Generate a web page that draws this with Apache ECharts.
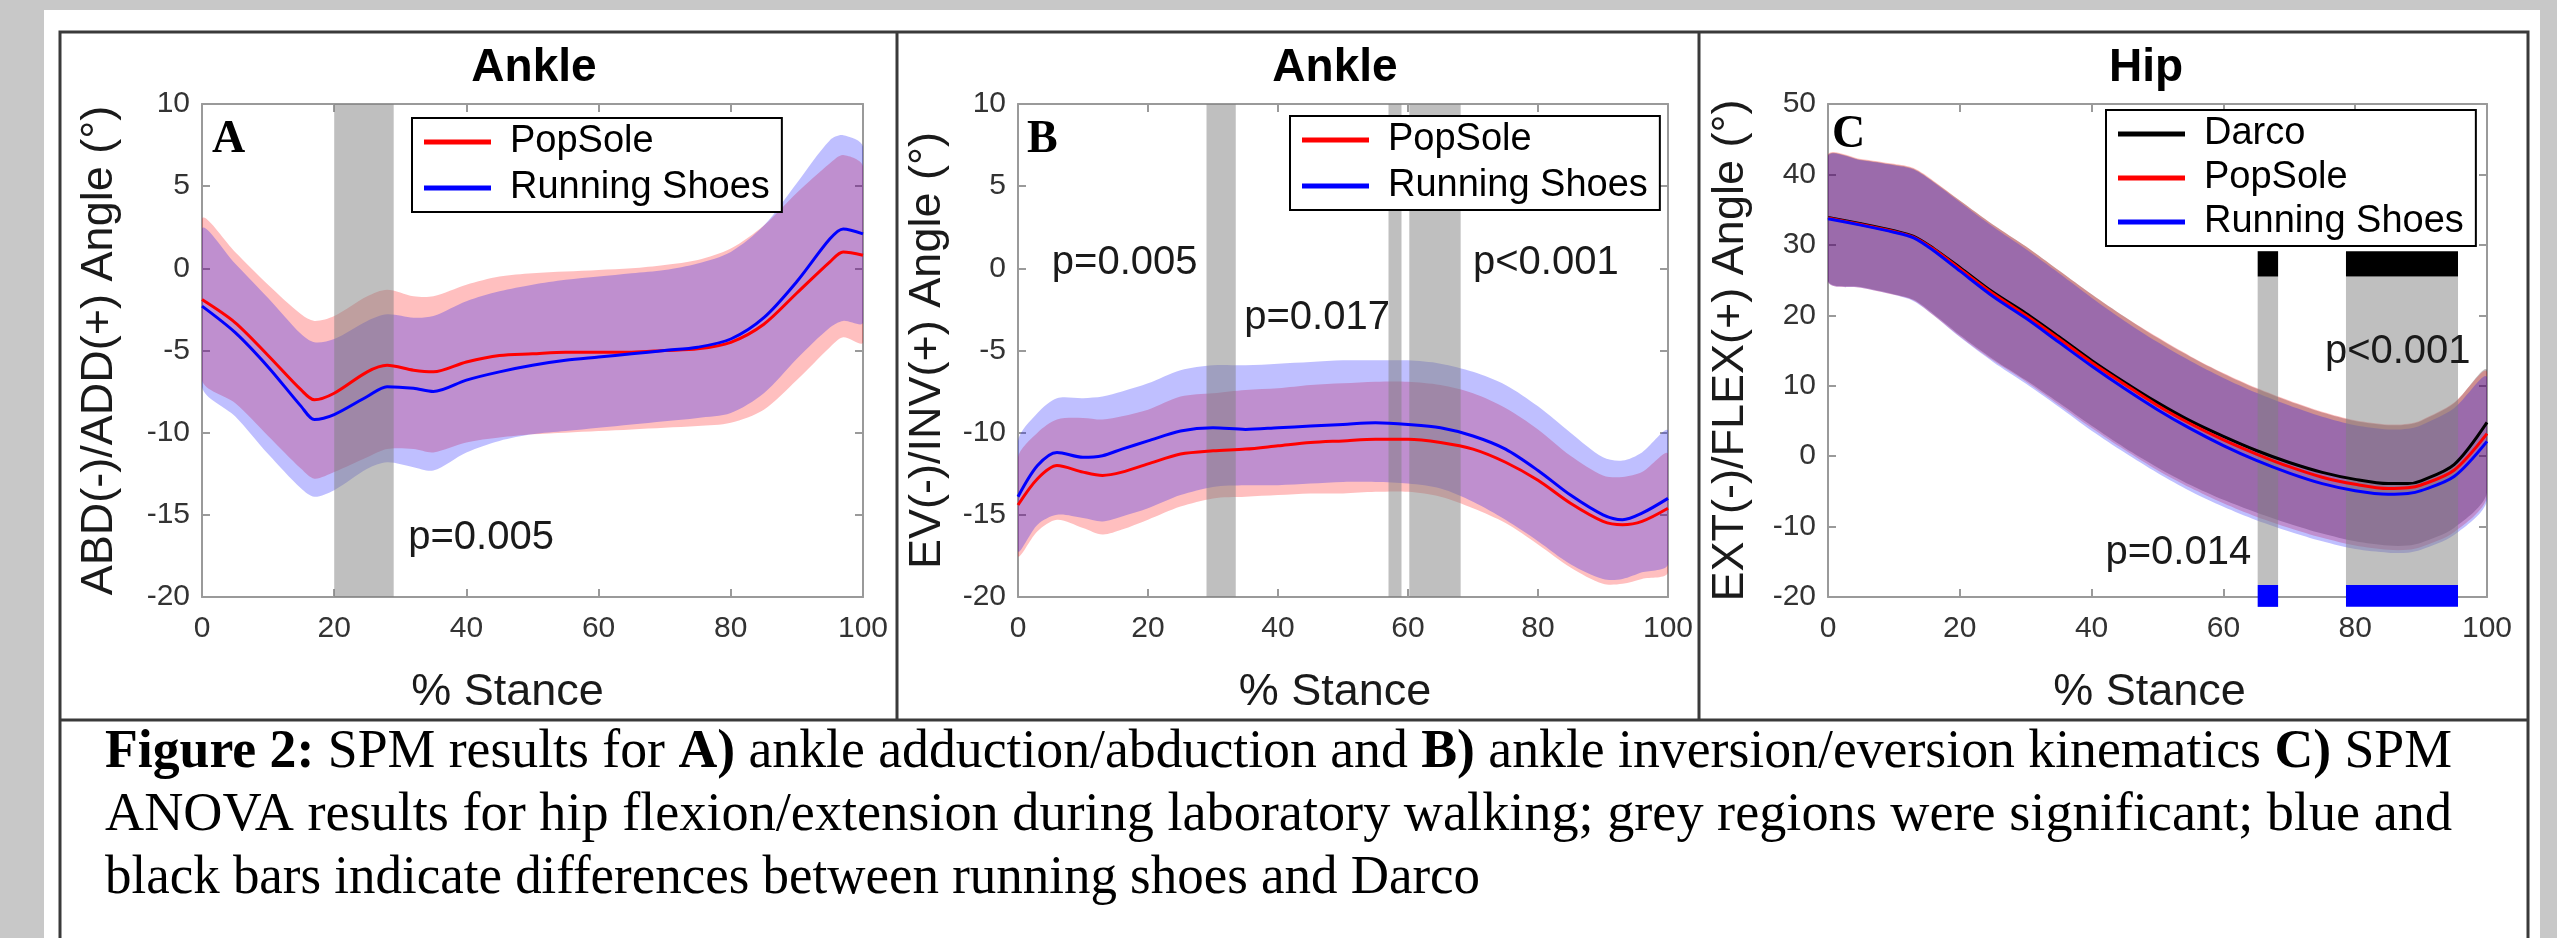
<!DOCTYPE html>
<html>
<head>
<meta charset="utf-8">
<script src="https://cdn.jsdelivr.net/npm/echarts@6/dist/echarts.min.js"></script>
<style>
  html, body { margin: 0; padding: 0; background: #c8c8c8; }
  #chart { width: 2557px; height: 938px; }
</style>
</head>
<body>
<div id="chart"></div>
<script>
// ---- panel A: ankle adduction / abduction ----
const aX = [0, 5, 10, 15, 17, 20, 25, 28, 32, 35, 40, 45, 50, 55, 60, 65, 70, 75, 80, 85, 90, 95, 97, 100]
const aPop = [-1.9, -3.3, -5.3, -7.4, -8.0, -7.6, -6.3, -5.9, -6.2, -6.3, -5.7, -5.3, -5.2, -5.1, -5.1, -5.1, -5.0, -4.9, -4.5, -3.4, -1.5, 0.4, 1.0, 0.8]
const aRun = [-2.3, -3.9, -6.0, -8.4, -9.2, -8.9, -7.8, -7.2, -7.3, -7.5, -6.8, -6.3, -5.9, -5.6, -5.4, -5.2, -5.0, -4.8, -4.3, -3.0, -0.8, 1.8, 2.4, 2.1]
const aPopHi = [3.0, 1.0, -1.0, -2.8, -3.2, -2.9, -1.7, -1.3, -1.7, -1.7, -1.0, -0.5, -0.3, -0.2, -0.1, 0.0, 0.2, 0.5, 1.2, 2.6, 4.6, 6.4, 6.9, 6.2]
const aPopLo = [-6.8, -8.2, -10.2, -12.2, -12.8, -12.4, -11.5, -11.0, -11.0, -11.2, -10.6, -10.3, -10.1, -10.0, -9.9, -9.8, -9.7, -9.6, -9.4, -8.6, -6.8, -4.8, -4.2, -4.5]
const aRunHi = [2.4, 0.3, -1.8, -4.0, -4.5, -4.3, -3.2, -2.8, -3.0, -2.9, -2.0, -1.4, -1.0, -0.7, -0.5, -0.3, -0.1, 0.3, 1.0, 2.6, 5.2, 7.8, 8.1, 7.4]
const aRunLo = [-7.2, -9.0, -11.3, -13.4, -13.9, -13.5, -12.2, -11.8, -12.1, -12.3, -11.2, -10.5, -10.1, -9.9, -9.7, -9.5, -9.3, -9.1, -8.8, -7.6, -5.5, -3.6, -3.2, -3.3]
const aSig = [[20, 29]]

// ---- panel B: ankle inversion / eversion ----
const bX = [0, 3, 6, 10, 13, 16, 20, 25, 30, 35, 40, 45, 50, 55, 60, 65, 70, 75, 80, 85, 90, 93, 96, 100]
const bPop = [-14.4, -12.8, -12.0, -12.4, -12.6, -12.4, -11.9, -11.3, -11.1, -11.0, -10.8, -10.6, -10.5, -10.4, -10.4, -10.6, -11.0, -11.8, -12.9, -14.3, -15.4, -15.6, -15.4, -14.6]
const bRun = [-13.9, -12.0, -11.2, -11.5, -11.4, -11.0, -10.5, -9.9, -9.7, -9.8, -9.7, -9.6, -9.5, -9.4, -9.5, -9.7, -10.2, -11.0, -12.3, -13.8, -15.0, -15.3, -14.9, -14.0]
const bPopHi = [-11.5, -10.0, -9.2, -9.1, -9.2, -9.0, -8.6, -7.8, -7.6, -7.4, -7.3, -7.1, -7.0, -6.9, -6.9, -7.1, -7.6, -8.5, -9.8, -11.4, -12.6, -12.7, -12.4, -11.3]
const bPopLo = [-17.5, -16.0, -15.3, -15.8, -16.2, -15.9, -15.3, -14.5, -14.0, -13.9, -13.8, -13.7, -13.7, -13.6, -13.6, -13.9, -14.6, -15.5, -16.8, -18.2, -19.2, -19.2, -18.9, -18.5]
const bRunHi = [-10.5, -8.8, -7.9, -7.9, -7.8, -7.5, -7.0, -6.2, -5.9, -5.9, -5.8, -5.7, -5.6, -5.6, -5.6, -5.8, -6.3, -7.1, -8.4, -10.0, -11.5, -11.7, -11.2, -9.9]
const bRunLo = [-17.2, -15.6, -15.0, -15.2, -15.4, -15.1, -14.6, -13.8, -13.3, -13.2, -13.2, -13.1, -13.0, -13.0, -13.1, -13.4, -14.2, -15.3, -16.6, -18.0, -18.9, -18.9, -18.5, -18.0]
const bSig = [[29, 33.5], [57, 59], [60.2, 68.1]]

// ---- panel C: hip flexion / extension ----
const cX = [0, 5, 10, 13, 16, 20, 25, 30, 35, 40, 45, 50, 55, 60, 65, 70, 75, 80, 85, 88, 90, 95, 100]
const cDarco = [33.9, 33.0, 32.0, 31.2, 29.5, 26.8, 23.3, 20.3, 17.0, 13.6, 10.5, 7.6, 5.0, 2.8, 0.8, -0.9, -2.3, -3.3, -3.9, -3.9, -3.5, -1.2, 4.8]
const cPop = [33.8, 32.9, 31.9, 31.1, 29.4, 26.6, 23.1, 20.0, 16.7, 13.3, 10.2, 7.2, 4.6, 2.3, 0.3, -1.5, -3.0, -4.0, -4.6, -4.5, -4.1, -2.0, 3.2]
const cRun = [33.7, 32.8, 31.8, 31.0, 29.2, 26.3, 22.7, 19.6, 16.2, 12.8, 9.6, 6.6, 3.9, 1.5, -0.6, -2.4, -3.9, -4.9, -5.4, -5.3, -4.9, -2.9, 2.1]
const cDarcoHi = [42.7, 42.1, 41.4, 40.8, 39.0, 36.3, 32.9, 29.8, 26.4, 23.0, 19.8, 16.8, 14.1, 11.7, 9.6, 7.8, 6.2, 5.0, 4.4, 4.5, 5.0, 7.5, 12.2]
const cDarcoLo = [24.9, 24.0, 23.0, 22.2, 20.2, 17.2, 13.8, 10.8, 7.6, 4.3, 1.2, -1.6, -4.1, -6.2, -8.0, -9.6, -11.0, -12.1, -12.7, -12.7, -12.3, -10.2, -5.2]
const cPopHi = [42.8, 42.2, 41.5, 40.9, 39.1, 36.3, 32.9, 29.8, 26.4, 23.0, 19.8, 16.9, 14.2, 11.8, 9.7, 7.9, 6.3, 5.1, 4.5, 4.6, 5.1, 7.6, 12.0]
const cPopLo = [24.8, 23.9, 22.9, 22.1, 20.0, 17.0, 13.6, 10.6, 7.3, 4.0, 0.9, -2.0, -4.5, -6.7, -8.6, -10.2, -11.6, -12.7, -13.3, -13.3, -12.9, -10.8, -5.8]
const cRunHi = [42.6, 42.0, 41.3, 40.7, 38.9, 36.1, 32.6, 29.4, 26.0, 22.5, 19.2, 16.2, 13.5, 11.1, 9.0, 7.2, 5.6, 4.4, 3.8, 3.9, 4.4, 6.8, 11.2]
const cRunLo = [24.8, 23.9, 22.9, 22.0, 20.0, 16.9, 13.4, 10.3, 7.0, 3.6, 0.5, -2.4, -5.0, -7.2, -9.1, -10.7, -12.1, -13.2, -13.7, -13.7, -13.3, -11.2, -6.3]
const cSig = [[65.2, 68.3], [78.6, 95.6]]

const SANS = 'Liberation Sans'
const SERIF = 'Liberation Serif'
const RED = '#ff0000'
const BLUE = '#0000ff'
const BLACK = '#000000'

const grids = [
  { left: 202, top: 104, width: 661, height: 493 },
  { left: 1018, top: 104, width: 650, height: 493 },
  { left: 1828, top: 104, width: 659, height: 493 }
]

function band(gi, name, xs, hi, lo, fill) {
  return {
    type: 'custom', name: name, xAxisIndex: gi * 2, yAxisIndex: gi * 2,
    data: [[xs[0], hi[0]]], silent: true,
    renderItem(params, api) {
      const up = xs.map((x, i) => api.coord([x, hi[i]]))
      const dn = xs.map((x, i) => api.coord([x, lo[i]])).reverse()
      const cs = params.coordSys
      return {
        type: 'polygon',
        shape: { points: up.concat(dn), smooth: 0.3 },
        style: { fill: fill },
        clipPath: { type: 'rect', shape: { x: cs.x, y: cs.y, width: cs.width, height: cs.height } }
      }
    }
  }
}

function meanLine(gi, name, xs, ys, color) {
  return {
    type: 'line', name: name, xAxisIndex: gi * 2, yAxisIndex: gi * 2,
    data: xs.map((x, i) => [x, ys[i]]),
    symbol: 'none', showSymbol: false, smooth: 0.3, silent: true,
    lineStyle: { color: color, width: 3 },
    itemStyle: { color: color }
  }
}

// shaded significance regions, each [x0, x1] between y0 and y1
function sigRects(gi, name, spans, y0, y1, fill) {
  return {
    type: 'custom', name: name, xAxisIndex: gi * 2, yAxisIndex: gi * 2,
    data: spans.map(s => [s[0], s[1]]), silent: true,
    renderItem(params, api) {
      const p0 = api.coord([api.value(0), y1])
      const p1 = api.coord([api.value(1), y0])
      return {
        type: 'rect',
        shape: { x: p0[0], y: p0[1], width: p1[0] - p0[0], height: p1[1] - p0[1] },
        style: { fill: fill }
      }
    }
  }
}

function notes(gi, pts, texts, font) {
  return {
    type: 'custom', name: 'notes' + gi, xAxisIndex: gi * 2, yAxisIndex: gi * 2,
    data: pts, silent: true, z: 5,
    renderItem(params, api) {
      const p = api.coord([api.value(0), api.value(1)])
      return {
        type: 'text', x: p[0], y: p[1],
        style: Object.assign({ text: texts[params.dataIndex], align: 'left', verticalAlign: 'middle', fill: '#1a1a1a' }, font[params.dataIndex])
      }
    }
  }
}

const pFont = { fontFamily: SANS, fontSize: 40 }
const letterFont = { fontFamily: SERIF, fontSize: 46, fontWeight: 'bold', fill: '#000' }

const axisLine = { show: true, onZero: false, lineStyle: { color: '#9a9a9a', width: 2 } }
const axisTick = { show: true, inside: true, length: 8, lineStyle: { color: '#9a9a9a', width: 2 } }
const tickLabel = { fontFamily: SANS, fontSize: 30, color: '#333' }

const yRanges = [[-20, 10, 5], [-20, 10, 5], [-20, 50, 10]]
const yNames = ['ABD(-)/ADD(+) Angle (°)', 'EV(-)/INV(+) Angle (°)', 'EXT(-)/FLEX(+) Angle (°)']
const yNameGaps = [79, 67, 74]
const xNamePad = [[0, 50, 0, 0], [0, 16, 0, 0], [0, 16, 0, 0]]

const xAxes = []
const yAxes = []
for (let i = 0; i < 3; i++) {
  xAxes.push({
    type: 'value', gridIndex: i, min: 0, max: 100, interval: 20, position: 'bottom',
    axisLine: axisLine, axisTick: axisTick, splitLine: { show: false },
    axisLabel: Object.assign({ margin: 17 }, tickLabel),
    name: '% Stance', nameLocation: 'middle', nameGap: 73, nameMoveOverlap: false,
    nameTextStyle: { fontFamily: SANS, fontSize: 45, color: '#1a1a1a', lineHeight: 46, padding: xNamePad[i] }
  })
  xAxes.push({
    type: 'value', gridIndex: i, min: 0, max: 100, interval: 20, position: 'top',
    axisLine: axisLine, axisTick: axisTick, splitLine: { show: false }, axisLabel: { show: false }
  })
  const r = yRanges[i]
  yAxes.push({
    type: 'value', gridIndex: i, min: r[0], max: r[1], interval: r[2], position: 'left',
    axisLine: axisLine, axisTick: axisTick, splitLine: { show: false },
    axisLabel: Object.assign({ margin: 12 }, tickLabel),
    name: yNames[i], nameLocation: 'middle', nameGap: yNameGaps[i], nameMoveOverlap: false,
    nameTextStyle: { fontFamily: SANS, fontSize: 45, color: '#1a1a1a', lineHeight: 46 }
  })
  yAxes.push({
    type: 'value', gridIndex: i, min: r[0], max: r[1], interval: r[2], position: 'right',
    axisLine: axisLine, axisTick: axisTick, splitLine: { show: false }, axisLabel: { show: false }
  })
}

function legendBox(left, top, names, gap) {
  return {
    data: names, orient: 'vertical', left: left, top: top,
    icon: 'rect', itemWidth: 67, itemHeight: 5, itemGap: gap,
    padding: [4, 12, 4, 12], borderColor: '#000', borderWidth: 2, backgroundColor: '#fff',
    selectedMode: false, z: 10,
    textStyle: { fontFamily: SANS, fontSize: 38, color: '#000', lineHeight: 40, padding: [0, 0, 0, 14] }
  }
}

const series = [
  band(0, 'aPopBand', aX, aPopHi, aPopLo, 'rgba(255,0,0,0.25)'),
  meanLine(0, 'PopSole', aX, aPop, RED),
  band(0, 'aRunBand', aX, aRunHi, aRunLo, 'rgba(0,0,255,0.25)'),
  meanLine(0, 'Running Shoes', aX, aRun, BLUE),
  sigRects(0, 'aSig', aSig, -20, 10, 'rgba(128,128,128,0.5)'),
  notes(0, [[1.5, 7.8], [31.2, -16.4]], ['A', 'p=0.005'], [letterFont, pFont]),

  band(1, 'bPopBand', bX, bPopHi, bPopLo, 'rgba(255,0,0,0.25)'),
  meanLine(1, 'PopSole', bX, bPop, RED),
  band(1, 'bRunBand', bX, bRunHi, bRunLo, 'rgba(0,0,255,0.25)'),
  meanLine(1, 'Running Shoes', bX, bRun, BLUE),
  sigRects(1, 'bSig', bSig, -20, 10, 'rgba(128,128,128,0.5)'),
  notes(1, [[1.4, 7.8], [5.2, 0.3], [34.8, -3.0], [70.0, 0.3]], ['B', 'p=0.005', 'p=0.017', 'p<0.001'], [letterFont, pFont, pFont, pFont]),

  band(2, 'cDarcoBand', cX, cDarcoHi, cDarcoLo, 'rgba(0,0,0,0.25)'),
  meanLine(2, 'Darco', cX, cDarco, BLACK),
  band(2, 'cPopBand', cX, cPopHi, cPopLo, 'rgba(255,0,0,0.25)'),
  meanLine(2, 'PopSole', cX, cPop, RED),
  band(2, 'cRunBand', cX, cRunHi, cRunLo, 'rgba(0,0,255,0.25)'),
  meanLine(2, 'Running Shoes', cX, cRun, BLUE),
  sigRects(2, 'cSig', cSig, -18.3, 25.5, 'rgba(128,128,128,0.5)'),
  sigRects(2, 'cSigDarco', cSig, 25.5, 29.1, BLACK),
  sigRects(2, 'cSigRun', cSig, -21.4, -18.3, BLUE),
  notes(2, [[0.6, 45.6], [75.4, 14.8], [42.1, -13.8]], ['C', 'p<0.001', 'p=0.014'], [letterFont, pFont, pFont])
]

// caption lines, fitted to the justified width of the original
const capSize = 54
const ctx = document.createElement('canvas').getContext('2d')
function segWidth(segs) {
  let w = 0
  segs.forEach(s => {
    ctx.font = (s[1] ? 'bold ' : '') + capSize + 'px "' + SERIF + '"'
    w += ctx.measureText(s[0]).width
  })
  return w
}
const cap1 = [['Figure 2:', 1], [' SPM results for ', 0], ['A)', 1], [' ankle adduction/abduction and ', 0], ['B)', 1], [' ankle inversion/eversion kinematics ', 0], ['C)', 1], [' SPM', 0]]
const cap2 = [['ANOVA results for hip flexion/extension during laboratory walking; grey regions were significant; blue and', 0]]
const cap3 = [['black bars indicate differences between running shoes and Darco', 0]]
function capLine(segs, y, target) {
  return {
    type: 'text', x: 105, y: y, scaleX: target / segWidth(segs), originX: 0, originY: 0,
    style: {
      text: segs.map(s => s[1] ? '{b|' + s[0] + '}' : s[0]).join(''),
      rich: { b: { fontWeight: 'bold', fontFamily: SERIF, fontSize: capSize, fill: '#000' } },
      fontFamily: SERIF, fontSize: capSize, fill: '#000', align: 'left', verticalAlign: 'middle'
    }
  }
}

const titleStyle = { fontFamily: SANS, fontSize: 46, fontWeight: 'bold', fill: '#000', align: 'center', verticalAlign: 'middle' }

const chart = echarts.init(document.getElementById('chart'), null, { renderer: 'canvas' })
chart.setOption({
  animation: false,
  backgroundColor: '#c8c8c8',
  grid: grids.map(g => Object.assign({ outerBoundsMode: 'none', containLabel: false }, g)),
  xAxis: xAxes,
  yAxis: yAxes,
  legend: [
    legendBox(412, 118, ['PopSole', 'Running Shoes'], 6),
    legendBox(1290, 116, ['PopSole', 'Running Shoes'], 6),
    legendBox(2106, 110, ['Darco', 'PopSole', 'Running Shoes'], 4)
  ],
  tooltip: { show: false },
  graphic: [
    { type: 'rect', z: -10, shape: { x: 44, y: 10, width: 2496, height: 940 }, style: { fill: '#fff' } },
    { type: 'rect', z: 20, shape: { x: 60, y: 32, width: 2468, height: 960 }, style: { fill: null, stroke: '#3a3a3a', lineWidth: 3 } },
    { type: 'line', z: 20, shape: { x1: 60, y1: 720, x2: 2528, y2: 720 }, style: { stroke: '#3a3a3a', lineWidth: 3 } },
    { type: 'line', z: 20, shape: { x1: 897, y1: 32, x2: 897, y2: 720 }, style: { stroke: '#3a3a3a', lineWidth: 3 } },
    { type: 'line', z: 20, shape: { x1: 1699, y1: 32, x2: 1699, y2: 720 }, style: { stroke: '#3a3a3a', lineWidth: 3 } },
    { type: 'text', z: 20, x: 534, y: 68, style: Object.assign({ text: 'Ankle' }, titleStyle) },
    { type: 'text', z: 20, x: 1335, y: 68, style: Object.assign({ text: 'Ankle' }, titleStyle) },
    { type: 'text', z: 20, x: 2146, y: 68, style: Object.assign({ text: 'Hip' }, titleStyle) },
    capLine(cap1, 753, 2347),
    capLine(cap2, 816, 2347),
    capLine(cap3, 879, 1375)
  ],
  series: series
})
</script>
</body>
</html>
